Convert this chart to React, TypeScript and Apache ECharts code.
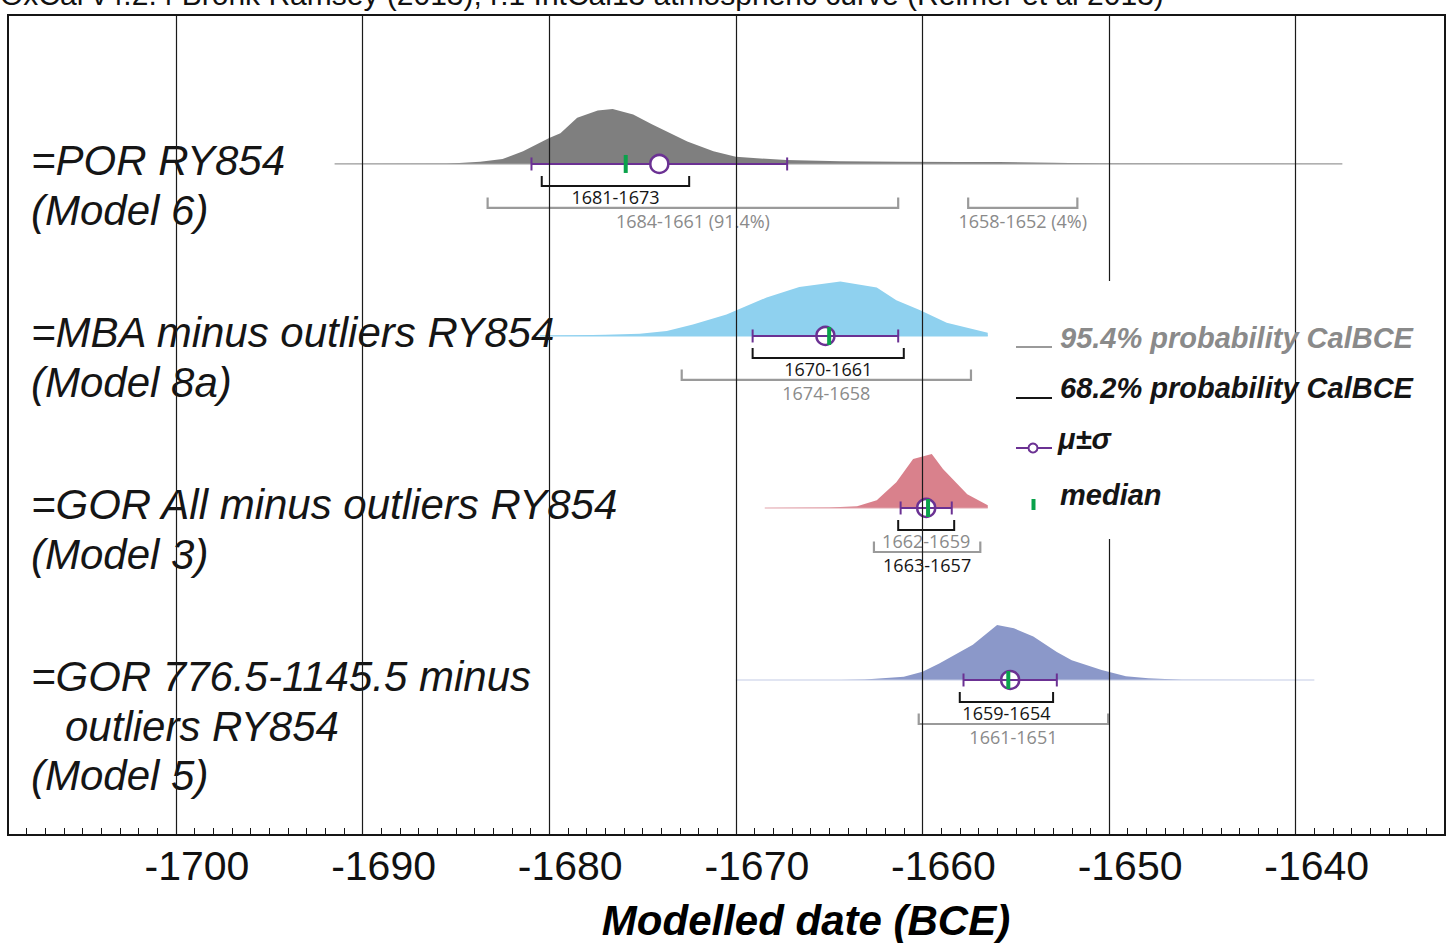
import React, { useEffect, useRef } from "react";
import * as echarts from "echarts";

// ---------- data ----------
const titleText =
  "OxCal v4.2.4 Bronk Ramsey (2013); r:1 IntCal13 atmospheric curve (Reimer et al 2013)";
const axisTitle = "Modelled date (BCE)";

// x axis extent and ticks (one tick per year, labels and grid lines every 10 years)
const xMin = -1709;
const xMax = -1632;
const xInterval = 1;
const majorTicks = [-1700, -1690, -1680, -1670, -1660, -1650, -1640];

// row baselines on a hidden y axis
const rowBase = [3, 2, 1, 0];
const yMin = -0.9012;
const yMax = 3.866;

const rowLabelLines = [
  ["=POR RY854", "(Model 6)"],
  ["=MBA minus outliers RY854", "(Model 8a)"],
  ["=GOR All minus outliers RY854", "(Model 3)"],
  ["=GOR 776.5-1145.5 minus", "outliers RY854", "(Model 5)"],
];

// relative probability densities [year, relative density]
const densityPOR: [number, number][] = [
  [-1691.5, 0], [-1685.5, 0.005], [-1683.7, 0.04], [-1682.5, 0.09], [-1681.4, 0.23],
  [-1680.0, 0.47], [-1679.4, 0.56], [-1678.5, 0.84], [-1677.4, 0.97], [-1676.6, 1.0],
  [-1675.5, 0.9], [-1674.5, 0.72], [-1672.6, 0.41], [-1671.2, 0.23], [-1670.0, 0.13],
  [-1667.3, 0.07], [-1664.4, 0.05], [-1661.2, 0.04], [-1658.0, 0.035], [-1655.9, 0.035],
  [-1653.0, 0.02], [-1650.5, 0.01], [-1645.0, 0.004], [-1637.5, 0],
];
const densityMBA: [number, number][] = [
  [-1680.5, 0], [-1677.0, 0.02], [-1675.15, 0.04], [-1673.7, 0.09], [-1672.3, 0.21],
  [-1670.5, 0.39], [-1668.35, 0.7], [-1666.6, 0.89], [-1664.4, 0.99], [-1662.45, 0.88],
  [-1661.4, 0.65], [-1660.15, 0.47], [-1658.7, 0.24], [-1656.5, 0.06],
];
const densityGORAll: [number, number][] = [
  [-1668.45, 0], [-1665.0, 0.01], [-1663.5, 0.03], [-1662.45, 0.14], [-1661.4, 0.47],
  [-1660.5, 0.89], [-1659.5, 0.98], [-1658.9, 0.71], [-1657.6, 0.25], [-1656.5, 0.05],
];
const densityGOR776: [number, number][] = [
  [-1670.0, 0], [-1664.4, 0], [-1663.1, 0.01], [-1661.0, 0.06], [-1660.0, 0.15],
  [-1659.1, 0.3], [-1657.3, 0.64], [-1656.0, 1.0], [-1655.1, 0.94], [-1654.06, 0.79],
  [-1652.8, 0.51], [-1652.0, 0.36], [-1650.4, 0.18], [-1649.1, 0.07], [-1647.9, 0.03],
  [-1646.1, 0.005], [-1639.0, 0],
];
const densities = [densityPOR, densityMBA, densityGORAll, densityGOR776];

const muValues = [-1674.1, -1665.2, -1659.8, -1655.3];
const sigmaValues = [6.85, 3.9, 1.37, 2.5];
const medianValues = [-1675.9, -1665.0, -1659.7, -1655.4];

const range68: [number, number][] = [
  [-1680.4, -1672.5], [-1669.1, -1661.0], [-1661.3, -1658.3], [-1658.0, -1653.0],
];
const range68Labels = ["1681-1673", "1670-1661", "1662-1659", "1659-1654"];

const range95: [number, number][][] = [
  [[-1683.3, -1661.3], [-1657.55, -1651.7]],
  [[-1672.9, -1657.4]],
  [[-1662.6, -1656.9]],
  [[-1660.2, -1650.05]],
];
const range95Labels = [
  ["1684-1661 (91.4%)", "1658-1652 (4%)"],
  ["1674-1658"],
  ["1663-1657"],
  ["1661-1651"],
];

const legendLabels = ["95.4% probability CalBCE", "68.2% probability CalBCE", "μ±σ", "median"];

// ---------- styles ----------
const fillColors = ["#7f7f7f", "#8fd1ef", "#d9818c", "#8b98c9"];
const baseLineColors = ["#9a9a9a", "#8fd1ef", "#e2a3ab", "#c4cbe6"];
const PURPLE = "#6b3193";
const GREEN = "#0aa24b";
const BLACK = "#151515";
const GRAY_BR = "#9a9a9a";
const GRAY_TX = "#8a8a8a";
const SANS = '"Liberation Sans", Arial, sans-serif';
const SMALL = '"Open Sans", "Noto Sans", sans-serif';
const label68Colors = [BLACK, BLACK, GRAY_TX, BLACK];
const label95Colors = [GRAY_TX, GRAY_TX, BLACK, GRAY_TX];
const circleAbove = [true, false, false, false];
const rowIndent = [[0, 0], [0, 0], [0, 0], [0, 34, 0]];

export default function App() {
  const ref = useRef<HTMLDivElement>(null);
  useEffect(() => {
    if (!ref.current) return;
    const chart = echarts.init(ref.current, undefined, { renderer: "svg" });
    const peakScale = 55 / 172;

    const renderItem = (params: any, api: any) => {
      const i = api.value(2) as number;
      const base = rowBase[i];
      const c = (x: number, dy = 0) => {
        const p = api.coord([x, base]);
        return [p[0], p[1] + dy];
      };
      const children: any[] = [];
      // density
      const dens = densities[i];
      const pts = dens.map(([x, v]) => api.coord([x, base + v * peakScale]));
      const first = dens[0][0];
      const last = dens[dens.length - 1][0];
      pts.push(api.coord([last, base]), api.coord([first, base]));
      children.push({ type: "polygon", shape: { points: pts }, style: { fill: fillColors[i] } });
      const a = c(first), b = c(last);
      children.push({
        type: "line",
        shape: { x1: a[0], y1: a[1], x2: b[0], y2: b[1] },
        style: { stroke: baseLineColors[i], lineWidth: 1.2 },
      });
      // 68.2% bracket
      const [r1, r2] = range68[i];
      const p1 = c(r1), p2 = c(r2);
      children.push({
        type: "polyline",
        shape: { points: [[p1[0], p1[1] + 12], [p1[0], p1[1] + 22], [p2[0], p2[1] + 22], [p2[0], p2[1] + 12]] },
        style: { stroke: BLACK, lineWidth: 2, fill: null },
      });
      children.push({
        type: "text",
        style: {
          text: range68Labels[i], x: (p1[0] + p2[0]) / 2, y: p1[1] + 33,
          align: "center", verticalAlign: "middle", fill: label68Colors[i], font: `18px ${SMALL}`,
        },
      });
      // 95.4% brackets
      range95[i].forEach(([s1, s2], k) => {
        const q1 = c(s1), q2 = c(s2);
        children.push({
          type: "polyline",
          shape: { points: [[q1[0], q1[1] + 33.5], [q1[0], q1[1] + 44], [q2[0], q2[1] + 44], [q2[0], q2[1] + 33.5]] },
          style: { stroke: GRAY_BR, lineWidth: 2.2, fill: null },
        });
        children.push({
          type: "text",
          style: {
            text: range95Labels[i][k], x: (q1[0] + q2[0]) / 2, y: q1[1] + 57,
            align: "center", verticalAlign: "middle", fill: label95Colors[i], font: `18px ${SMALL}`,
          },
        });
      });
      // mu +/- sigma
      const mu = muValues[i], sg = sigmaValues[i];
      const m1 = c(mu - sg), m2 = c(mu + sg), mc = c(mu);
      const circle = {
        type: "circle",
        shape: { cx: mc[0], cy: mc[1], r: 9 },
        style: { fill: "#ffffff", stroke: PURPLE, lineWidth: 2.5 },
      };
      if (!circleAbove[i]) children.push(circle);
      children.push({
        type: "line",
        shape: { x1: m1[0], y1: m1[1], x2: m2[0], y2: m2[1] },
        style: { stroke: PURPLE, lineWidth: 2 },
      });
      [m1, m2].forEach((m) =>
        children.push({
          type: "line",
          shape: { x1: m[0], y1: m[1] - 6.5, x2: m[0], y2: m[1] + 6.5 },
          style: { stroke: PURPLE, lineWidth: 2 },
        })
      );
      const md = c(medianValues[i]);
      children.push({
        type: "rect",
        shape: { x: md[0] - 2, y: md[1] - 9, width: 4, height: 18 },
        style: { fill: GREEN },
      });
      if (circleAbove[i]) children.push(circle);
      // row labels
      const lx = c(xMin)[0] + 23;
      rowLabelLines[i].forEach((line, k) => {
        children.push({
          type: "text",
          style: {
            text: line, x: lx + rowIndent[i][k], y: mc[1] - 3 + k * 49.5,
            align: "left", verticalAlign: "middle", fill: BLACK, font: `italic 42px ${SANS}`,
          },
        });
      });
      return { type: "group", children };
    };

    const legendFont = `italic bold 29px ${SANS}`;
    chart.setOption({
      animation: false,
      grid: { left: 8, right: 3, top: 15, bottom: 108, containLabel: false },
      xAxis: {
        type: "value",
        min: xMin,
        max: xMax,
        interval: xInterval,
        axisLine: { show: false, onZero: false },
        axisTick: { show: true, inside: true, length: 7, lineStyle: { color: BLACK, width: 1 } },
        splitLine: { show: false },
        axisLabel: {
          showMinLabel: false,
          showMaxLabel: false,
          interval: 0,
          fontSize: 41,
          fontFamily: SANS,
          color: "#111",
          margin: 10,
          padding: [0, 0, 0, 42],
          formatter: (v: number) => (Math.round(v) % 10 === 0 ? String(Math.round(v)) : ""),
        },
      },
      yAxis: { type: "value", min: yMin, max: yMax, show: false },
      series: [
        {
          type: "custom",
          renderItem,
          data: muValues.map((m, i) => [m, rowBase[i], i]),
          z: 3,
        },
        {
          type: "line",
          data: [],
          z: 5,
          silent: true,
          markLine: {
            silent: true,
            symbol: ["none", "none"],
            label: { show: false },
            lineStyle: { color: "#1a1a1a", width: 1.2, type: "solid" },
            emphasis: { disabled: true },
            data: majorTicks.map((v) => ({ xAxis: v })),
          },
        },
      ],
      graphic: {
        elements: [
          { type: "rect", z: 6, shape: { x: 1103, y: 281, width: 12, height: 258 }, style: { fill: "#fff" } },
          { type: "rect", z: 10, shape: { x: 8, y: 15, width: 1437, height: 820 }, style: { fill: null, stroke: BLACK, lineWidth: 2 } },
          { type: "text", z: 10, x: 0, y: -5.5, style: { text: titleText, fill: "#111", font: `30px ${SANS}`, align: "left", verticalAlign: "middle" } },
          { type: "text", z: 10, x: 806, y: 920, style: { text: axisTitle, fill: "#000", font: `italic bold 42px ${SANS}`, align: "center", verticalAlign: "middle" } },
          // legend
          { type: "line", z: 10, shape: { x1: 1016, y1: 347, x2: 1052, y2: 347 }, style: { stroke: GRAY_BR, lineWidth: 2 } },
          { type: "text", z: 10, x: 1060, y: 338, style: { text: legendLabels[0], fill: GRAY_TX, font: legendFont, align: "left", verticalAlign: "middle" } },
          { type: "line", z: 10, shape: { x1: 1016, y1: 398, x2: 1052, y2: 398 }, style: { stroke: BLACK, lineWidth: 2 } },
          { type: "text", z: 10, x: 1060, y: 388, style: { text: legendLabels[1], fill: BLACK, font: legendFont, align: "left", verticalAlign: "middle" } },
          { type: "line", z: 10, shape: { x1: 1016, y1: 448, x2: 1052, y2: 448 }, style: { stroke: PURPLE, lineWidth: 2 } },
          { type: "circle", z: 11, shape: { cx: 1033, cy: 448, r: 4.5 }, style: { fill: "#fff", stroke: PURPLE, lineWidth: 2 } },
          { type: "text", z: 10, x: 1058, y: 439, style: { text: legendLabels[2], fill: BLACK, font: legendFont, align: "left", verticalAlign: "middle" } },
          { type: "rect", z: 10, shape: { x: 1031.5, y: 499, width: 4, height: 11 }, style: { fill: GREEN } },
          { type: "text", z: 10, x: 1060, y: 495, style: { text: legendLabels[3], fill: BLACK, font: legendFont, align: "left", verticalAlign: "middle" } },
        ],
      },
    });
    return () => chart.dispose();
  }, []);
  return (
    <div
      ref={ref}
      style={{ position: "absolute", left: 0, top: 0, width: 1448, height: 943, background: "#fff" }}
    />
  );
}
